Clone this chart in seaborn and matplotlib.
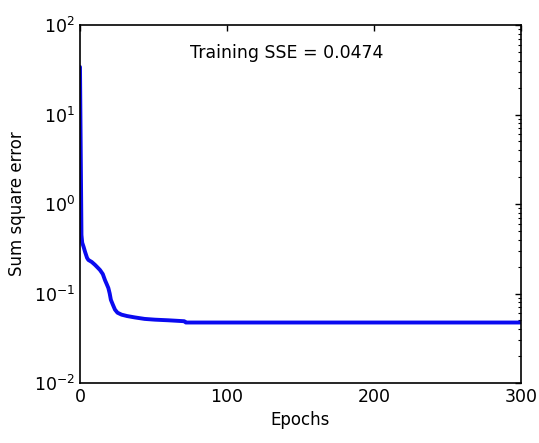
import matplotlib
matplotlib.use("Agg")
import matplotlib.pyplot as plt
import pandas as pd
import seaborn as sns

# training curve (epoch, sum square error)
epochs = [0, 1, 1.5, 2.5, 3.5, 4.8, 5.7, 8, 10.2, 12, 13.6, 15.5, 17, 18.2, 19.3,
          20.2, 21, 22.5, 23.8, 25.5, 28.3, 32, 37.4, 44, 51, 60, 71, 72, 100,
          150, 200, 250, 300]
sse = [34, 0.45, 0.37, 0.33, 0.29, 0.25, 0.237, 0.225, 0.209, 0.195, 0.183, 0.165,
       0.141, 0.127, 0.115, 0.1, 0.085, 0.074, 0.066, 0.061, 0.058, 0.056, 0.054,
       0.052, 0.051, 0.0502, 0.049, 0.0474, 0.0474, 0.0474, 0.0474, 0.0474, 0.0474]
sse_label = "Training SSE = 0.0474"

df = pd.DataFrame({"Epochs": epochs, "SSE": sse})

sns.set_style("white")
plt.rcParams["font.family"] = ["DejaVu Sans"]
plt.rcParams["mathtext.default"] = "regular"
plt.rcParams["text.color"] = "black"
plt.rcParams["axes.labelcolor"] = "black"

fig = plt.figure(figsize=(5.39, 4.43), dpi=100)
ax = fig.add_axes([80 / 539, 60 / 443, 441 / 539, 358 / 443])

sns.lineplot(data=df, x="Epochs", y="SSE", ax=ax, color="#0a0af0",
             linewidth=2.8)

ax.set_yscale("log")
ax.set_xlim(0, 300)
ax.set_ylim(1e-2, 1e2)
ax.set_xticks([0, 100, 200, 300])
ax.set_yticks([1e-2, 1e-1, 1e0, 1e1, 1e2])

ax.tick_params(which="both", direction="in", top=True, right=True,
               labelsize=12.5, colors="black")
ax.tick_params(which="major", length=4, width=1)
ax.tick_params(which="minor", length=2.5, width=0.8)
for s in ax.spines.values():
    s.set_color("black")
    s.set_linewidth(1.2)

ax.set_xlabel("Epochs", fontsize=12, labelpad=4)
ax.set_ylabel("Sum square error", fontsize=12, labelpad=6)
ax.text(0.468, 0.922, sse_label, transform=ax.transAxes, ha="center",
        va="center", fontsize=12.5)

fig.savefig("out.png", dpi=100)
